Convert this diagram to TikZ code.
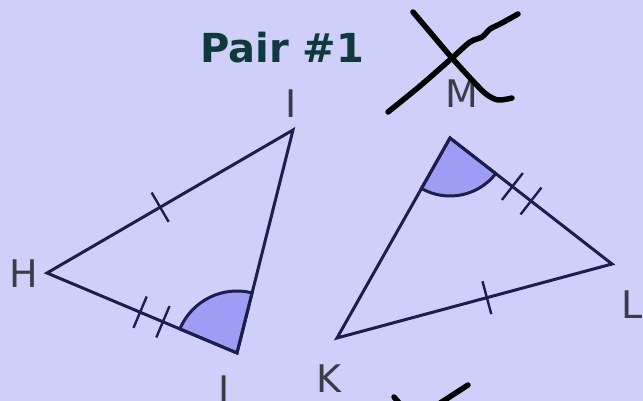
\documentclass[tikz,border=0pt]{standalone}
\usepackage{fontspec}
\newfontfamily\labfont{DejaVu Sans}
\usetikzlibrary{calc}
\definecolor{bg}{RGB}{207,207,250}
\definecolor{navy}{RGB}{30,30,78}
\definecolor{wedge}{RGB}{157,157,245}
\definecolor{titlecol}{RGB}{14,58,60}
\definecolor{labcol}{RGB}{60,60,72}
\tikzset{
  side/.style={navy, line width=3pt, line join=miter},
  tick/.style={navy, line width=2.4pt},
  anglearc/.style={fill=wedge, draw=navy, line width=3pt},
  vlabel/.style={text=labcol, anchor=base, inner sep=0pt, font=\labfont\fontsize{38}{38}\selectfont},
  scrib/.style={black, line width=5.5pt, line cap=round, line join=round},
}
\begin{document}
\begin{tikzpicture}[x=1pt,y=-1pt]
\clip (0,0) rectangle (643,401);
\fill[bg] (0,0) rectangle (643,401);
% vertices
\coordinate (H) at (47,273);
\coordinate (I) at (293,130);
\coordinate (J) at (237,353);
\coordinate (M) at (450,138);
\coordinate (L) at (612,264);
\coordinate (K) at (337,338);
% angle wedges
\filldraw[anglearc] (J) -- ++(157.2:62pt) arc[start angle=157.2, end angle=75.9, radius=62pt] -- cycle;
\filldraw[anglearc] (M) -- ++(240.5:58pt) arc[start angle=240.5, end angle=322.1, radius=58pt] -- cycle;
% triangles
\draw[side] (H) -- (I) -- (J) -- cycle;
\draw[side] (M) -- (L) -- (K) -- cycle;
% tick marks
\coordinate (t1) at ($(H)!0.46!(I)$);
\coordinate (t2) at ($(H)!0.49!(J)$);
\coordinate (t3) at ($(H)!0.61!(J)$);
\coordinate (t4) at ($(M)!0.385!(L)$);
\coordinate (t5) at ($(M)!0.50!(L)$);
\coordinate (t6) at ($(K)!0.545!(L)$);
\foreach \t/\e in {t1/I, t2/J, t3/J, t4/L, t5/L, t6/L}{
  \draw[tick] ($(\t)!17pt!90:(\e)$) -- ($(\t)!17pt!-90:(\e)$);
}
% labels
\node[vlabel] (lH) at (24,287) {H};
\node[vlabel] (lI) at (291,118) {I};
\node[vlabel] (lJ) at (224,403) {J};
\node[vlabel] (lM) at (462,108) {M};
\node[vlabel] (lL) at (632,318) {L};
\node[vlabel] (lK) at (329,392) {K};
% title
\node[text=titlecol, anchor=base, inner sep=0pt, font=\labfont\bfseries\fontsize{40}{40}\selectfont] (title) at (282,63) {Pair \#1};
% scribbles
\draw[scrib] plot[smooth] coordinates {(413,12) (435,38) (452,58) (472,80) (486,94) (498,100) (512,98)};
\draw[scrib] plot[smooth] coordinates {(388,112) (420,86) (452,58) (470,42) (482,37) (490,29) (500,24) (518,14)};
\draw[scrib] (394,397) -- (414,420) -- (468,385);
\end{tikzpicture}
\end{document}
